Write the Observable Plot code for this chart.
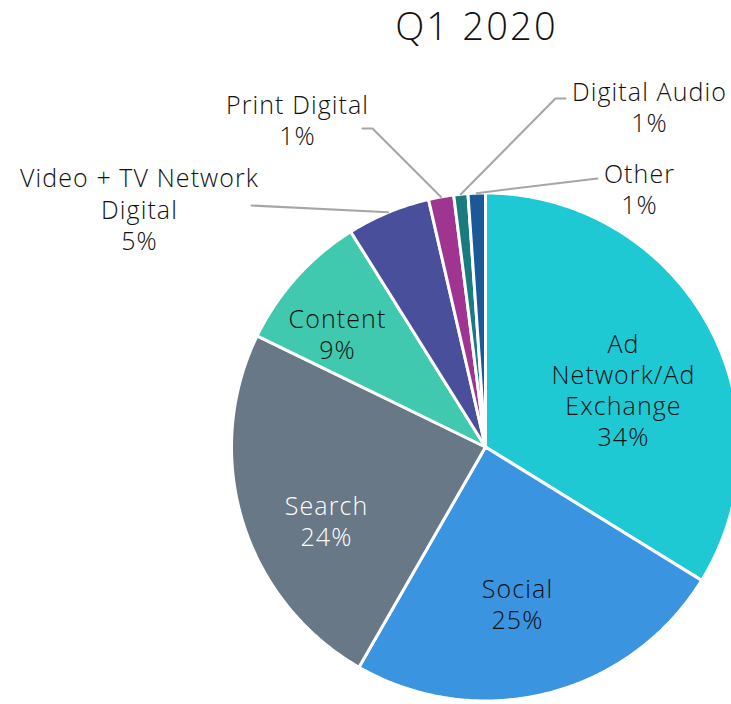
<!DOCTYPE html>
<html><head><meta charset="utf-8">
<script src="https://cdn.jsdelivr.net/npm/d3@7"></script>
<script src="https://cdn.jsdelivr.net/npm/@observablehq/plot@0.6"></script>
<style>
html,body{margin:0;padding:0;overflow:hidden;background:#fff}
#chart svg text{letter-spacing:1.1px}
#chart svg > g:last-of-type text{letter-spacing:2.2px}
</style>
</head><body><div id="chart"></div>
<script>
// ---- data ----
const title = "Q1 2020";
const categories = ["Ad Network/Ad Exchange","Social","Search","Content","Video + TV Network Digital","Print Digital","Digital Audio","Other"];
const displayNames = ["Ad\nNetwork/Ad\nExchange","Social","Search","Content","Video + TV Network\nDigital","Print Digital","Digital Audio","Other"];
const shares = [33.8, 24.5, 23.9, 8.9, 5.3, 1.6, 0.9, 1.1];
const shareLabels = ["34%","25%","24%","9%","5%","1%","1%","1%"];
const colors = ["#1fc9d4","#3a94e0","#687887","#40c9ae","#4a4f9c","#9f3591","#197b7d","#1b5896"];

// ---- layout (pixels) ----
const W = 731, H = 704;
const cx = 485, cy = 446.5, R = 254;
const labelPos = {
  "Ad Network/Ad Exchange": {x: 623, y: 389, color: "#111"},
  "Social": {x: 517, y: 603, color: "#111"},
  "Search": {x: 326, y: 520, color: "#fff"},
  "Content": {x: 337, y: 333, color: "#111"},
  "Video + TV Network Digital": {x: 139, y: 208, leader: [[251,205]], color: "#111"},
  "Print Digital": {x: 297, y: 119, leader: [[372,128],[362,128]], color: "#111"},
  "Digital Audio": {x: 649, y: 106, leader: [[555,98],[565,98]], color: "#111"},
  "Other": {x: 639, y: 188, leader: [[597,178]], color: "#111"}
};

const total = d3.sum(shares);
const slices = [];
const leaders = [];
const labels = [];
let acc = 0;
categories.forEach((cat, i) => {
  const a0 = acc / total * 2 * Math.PI;
  acc += shares[i];
  const a1 = acc / total * 2 * Math.PI;
  const pt = a => ({cat, x: cx + R * Math.sin(a), y: cy - R * Math.cos(a)});
  slices.push({cat, x: cx, y: cy});
  const n = Math.max(4, Math.ceil((a1 - a0) / 0.01));
  for (let k = 0; k <= n; k++) slices.push(pt(a0 + (a1 - a0) * k / n));
  slices.push({cat, x: cx, y: cy});
  const L = labelPos[cat];
  if (L.leader) {
    leaders.push(pt((a0 + a1) / 2));
    L.leader.forEach(([x, y]) => leaders.push({cat, x, y}));
  }
  labels.push({cat, text: displayNames[i] + "\n" + shareLabels[i], x: L.x, y: L.y, color: L.color});
});

const font = "'Open Sans', Lato, sans-serif";
const chart = Plot.plot({
  width: W, height: H, margin: 0,
  x: {domain: [0, W], range: [0, W], axis: null},
  y: {domain: [0, H], range: [0, H], axis: null},
  color: {domain: categories, range: colors},
  style: {fontFamily: font, overflow: "hidden", background: "#fff"},
  marks: [
    Plot.line(slices, {x: "x", y: "y", z: "cat", fill: "cat", stroke: "white", strokeWidth: 3, strokeLinejoin: "round"}),
    Plot.line(leaders, {x: "x", y: "y", z: "cat", stroke: "#a6a6a6", strokeWidth: 2}),
    Plot.text(labels, {x: "x", y: "y", text: "text", fill: d => d.color, fontSize: 25, lineHeight: 1.25, fontWeight: 300, fontFamily: font}),
    Plot.text([{t: title, x: 476, y: 27}], {x: "x", y: "y", text: "t", fontSize: 38, fontWeight: 300, fill: "#111", fontFamily: font})
  ]
});
document.getElementById("chart").appendChild(chart);
</script>
</body></html>
